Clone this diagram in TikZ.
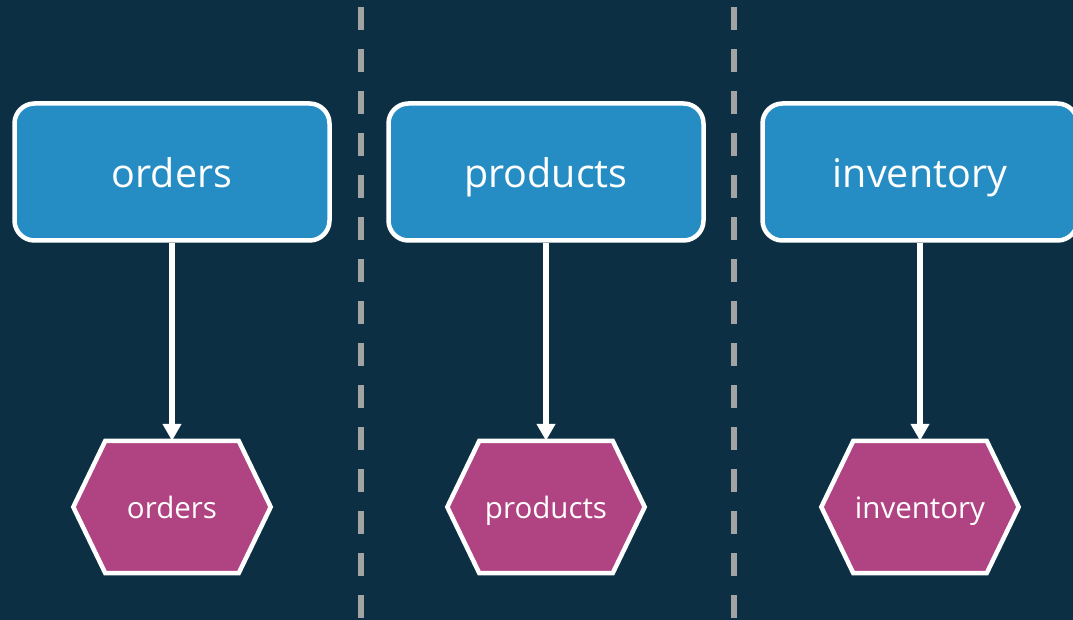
\documentclass[tikz,border=0pt]{standalone}
\usepackage{fontspec}
\setmainfont{Open Sans}
\usetikzlibrary{arrows.meta}
\definecolor{bgnavy}{HTML}{0C2F44}
\definecolor{boxblue}{HTML}{258DC3}
\definecolor{hexpink}{HTML}{B04482}
\definecolor{dashgrey}{HTML}{A3A3A3}
\pgfdeclarelayer{bglayer}
\pgfdeclarelayer{hexlayer}
\pgfsetlayers{bglayer,hexlayer,main}
\begin{document}
\begin{tikzpicture}[x=1pt,y=-1pt,
  topic/.style={rectangle, rounded corners=20pt, draw=white, line width=4.5pt, fill=boxblue,
    minimum width=315pt, minimum height=137pt, text=white, font=\fontsize{39.5}{44}\selectfont,
    inner sep=0pt, text height=42pt, text depth=10pt},
  hexholder/.style={rectangle, minimum width=197pt, minimum height=132pt, text=white,
    font=\fontsize{29.5}{34}\selectfont, inner sep=0pt, text height=30pt, text depth=8pt},
  hexshape/.style={draw=white, line width=4.5pt, fill=hexpink, line join=miter},
  link/.style={draw=white, line width=5.5pt, -{Triangle[width=18pt,length=17pt]}},
  divider/.style={draw=dashgrey, line width=6pt, dash pattern=on 23pt off 19pt}
]
\begin{pgfonlayer}{bglayer}
\fill[bgnavy] (0,0) rectangle (1073,620);
\end{pgfonlayer}
\useasboundingbox (0,0) rectangle (1073,620);

\draw[divider] (361,7) -- (361,625);
\draw[divider] (734,7) -- (734,625);

\node[topic] (b1) at (172,172) {orders};
\node[topic] (b2) at (546,172) {products};
\node[topic] (b3) at (920,172) {inventory};

\node[hexholder] (h1) at (172,507) {orders};
\node[hexholder] (h2) at (546,507) {products};
\node[hexholder] (h3) at (920,507) {inventory};

\begin{pgfonlayer}{hexlayer}
\foreach \h in {h1,h2,h3}{
  \path[hexshape] (\h.west) -- ([xshift=32pt]\h.north west) -- ([xshift=-32pt]\h.north east)
    -- (\h.east) -- ([xshift=-32pt]\h.south east) -- ([xshift=32pt]\h.south west) -- cycle;
}
\end{pgfonlayer}

\draw[link] (b1.south) -- (h1.north);
\draw[link] (b2.south) -- (h2.north);
\draw[link] (b3.south) -- (h3.north);
\end{tikzpicture}
\end{document}
